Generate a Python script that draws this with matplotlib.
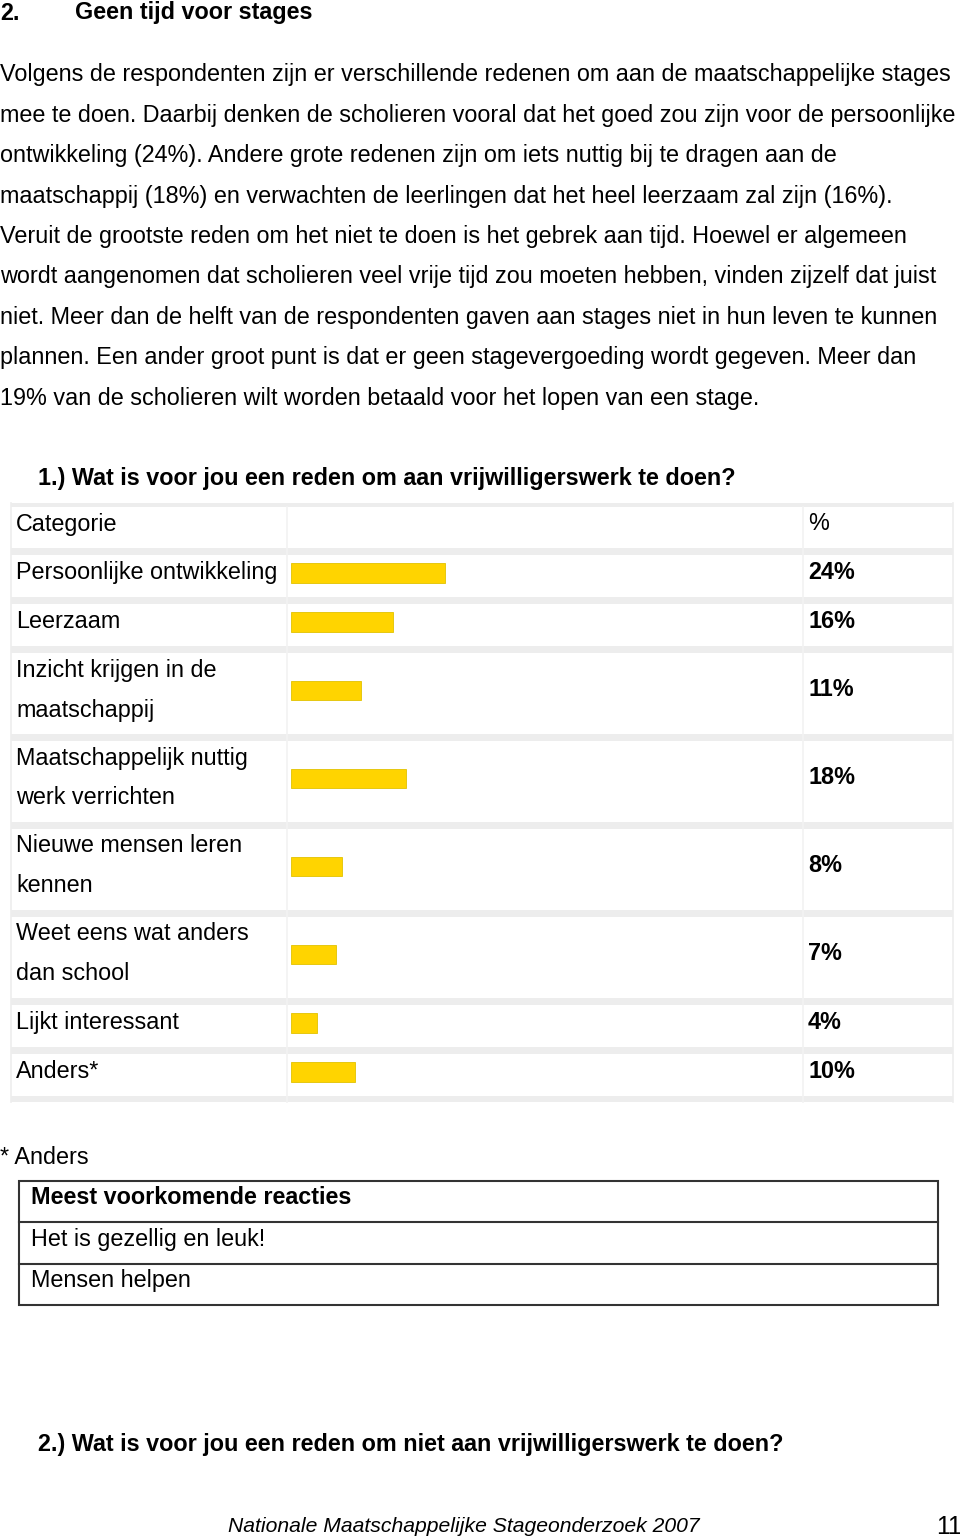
import matplotlib
matplotlib.use("Agg")
import matplotlib.pyplot as plt
from matplotlib.patches import Rectangle

# data
intro_lines = [
    "Volgens de respondenten zijn er verschillende redenen om aan de maatschappelijke stages",
    "mee te doen. Daarbij denken de scholieren vooral dat het goed zou zijn voor de persoonlijke",
    "ontwikkeling (24%). Andere grote redenen zijn om iets nuttig bij te dragen aan de",
    "maatschappij (18%) en verwachten de leerlingen dat het heel leerzaam zal zijn (16%).",
    "Veruit de grootste reden om het niet te doen is het gebrek aan tijd. Hoewel er algemeen",
    "wordt aangenomen dat scholieren veel vrije tijd zou moeten hebben, vinden zijzelf dat juist",
    "niet. Meer dan de helft van de respondenten gaven aan stages niet in hun leven te kunnen",
    "plannen. Een ander groot punt is dat er geen stagevergoeding wordt gegeven. Meer dan",
    "19% van de scholieren wilt worden betaald voor het lopen van een stage.",
]
categories = [
    "Persoonlijke ontwikkeling",
    "Leerzaam",
    "Inzicht krijgen in de\nmaatschappij",
    "Maatschappelijk nuttig\nwerk verrichten",
    "Nieuwe mensen leren\nkennen",
    "Weet eens wat anders\ndan school",
    "Lijkt interessant",
    "Anders*",
]
percentages = [24, 16, 11, 18, 8, 7, 4, 10]
reacties = ["Meest voorkomende reacties", "Het is gezellig en leuk!", "Mensen helpen"]

FONT = "Liberation Sans"
YELLOW = "#FFD400"
SEP = "#EDEDED"
FS = 16.8

fig = plt.figure(figsize=(9.6, 15.36), dpi=100)
ax = fig.add_axes([0, 0, 1, 1])
ax.set_xlim(0, 960)
ax.set_ylim(1536, 0)
ax.axis("off")

def txt(x, y, s, size=FS, weight="normal", style="normal", **kw):
    # +2 px: matplotlib centres on the full line box, shift to match the page
    ax.text(x, y + 2, s, fontsize=size, fontweight=weight, fontstyle=style,
            family=FONT, va="center", ha=kw.pop("ha", "left"), color="black", **kw)

# heading
txt(0, 11, "2.", weight="bold")
txt(75, 11, "Geen tijd voor stages", weight="bold")

for i, line in enumerate(intro_lines):
    txt(0, 73 + i * 40.4, line)

txt(38, 477, "1.) Wat is voor jou een reden om aan vrijwilligerswerk te doen?", weight="bold")

# table layout
x_left, x_div1, x_div2, x_right = 11, 287, 803, 953
top = 503
ax.add_patch(Rectangle((x_left, top), x_right - x_left, 4, color=SEP, lw=0))
y = top + 4
txt(16, y + 15, "Categorie")
txt(808, y + 15, "%")
y += 41
row_spans = []
for cat in categories:
    ax.add_patch(Rectangle((x_left, y), x_right - x_left, 7, color=SEP, lw=0))
    y += 7
    h = 42 if "\n" not in cat else 81
    row_spans.append((y, h))
    y += h
ax.add_patch(Rectangle((x_left, y), x_right - x_left, 6, color=SEP, lw=0))
table_bottom = y + 6

for xv in (x_left, x_right):
    ax.plot([xv, xv], [top, table_bottom], color=SEP, lw=1.2)
for xv in (x_div1, x_div2):
    ax.plot([xv, xv], [top + 4, table_bottom], color="#F2F2F2", lw=1.2)

row_centers = []
for cat, pct, (ry, h) in zip(categories, percentages, row_spans):
    for j, part in enumerate(cat.split("\n")):
        txt(16, ry + 15 + j * 40, part)
    c = ry + h / 2
    row_centers.append(c - 3)
    txt(808, c - 5.5, f"{pct}%", weight="bold")

# bars on their own axis (x in percent)
bx = fig.add_axes([291 / 960, 0, (803 - 291) / 960, 1])
bx.set_ylim(1536, 0)
bx.set_xlim(0, 80)
bx.axis("off")
bx.barh(row_centers, percentages, height=19.5, color=YELLOW, edgecolor="#E2C200", linewidth=0.6)

# footnote
txt(0, 1155, "* Anders")
bt, bb, bl, br = 1181, 1305, 19, 938
row_h = (bb - bt) / 3
for k, r in enumerate(reacties):
    txt(31, bt + 15 + k * row_h, r, weight="bold" if k == 0 else "normal")
ax.add_patch(Rectangle((bl, bt), br - bl, bb - bt, fill=False, ec="#333333", lw=1.5))
for k in (1, 2):
    ax.plot([bl, br], [bt + k * row_h] * 2, color="#333333", lw=1.5)

txt(38, 1442, "2.) Wat is voor jou een reden om niet aan vrijwilligerswerk te doen?", weight="bold")

txt(228, 1524, "Nationale Maatschappelijke Stageonderzoek 2007", size=15.2, style="italic")
txt(962, 1525, "11", size=18, ha="right")

fig.savefig("out.png", dpi=100)
